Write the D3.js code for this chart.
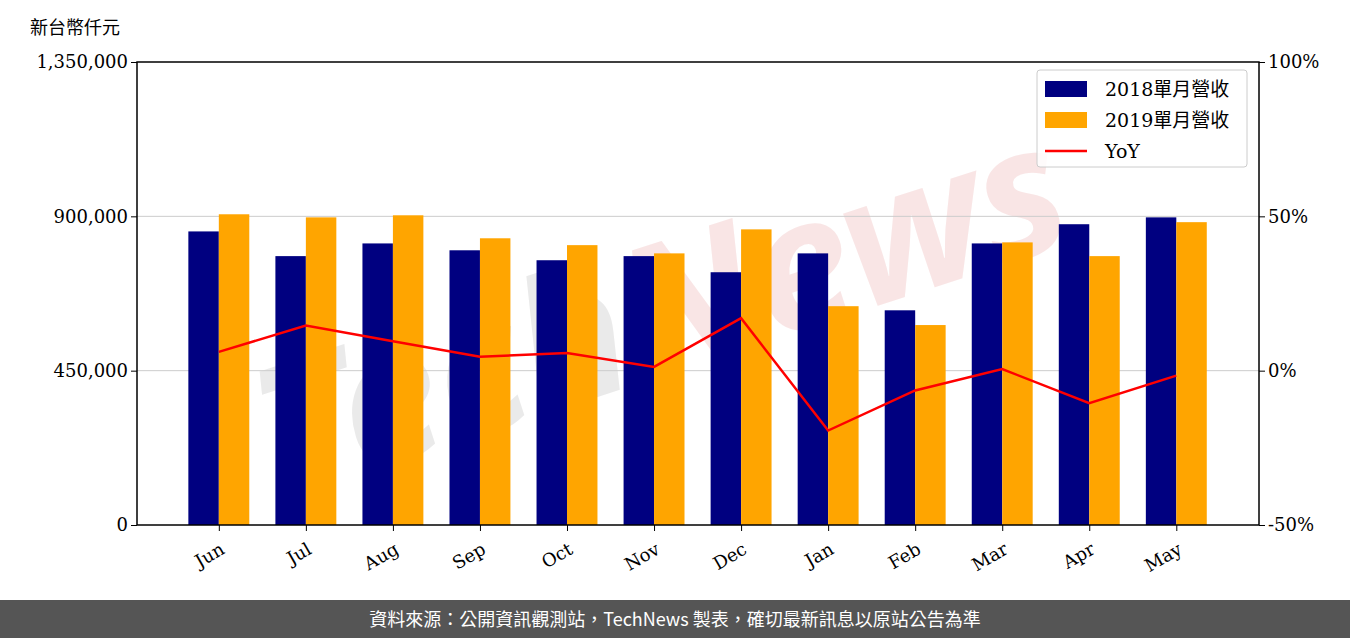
<!DOCTYPE html>
<html><head><meta charset="utf-8">
<script src="https://cdn.jsdelivr.net/npm/d3@7"></script>
<style>body{margin:0;background:#fff}svg{display:block}</style>
</head><body>
<svg id="c" width="1350" height="638"></svg>
<script>
const months = ["Jun","Jul","Aug","Sep","Oct","Nov","Dec","Jan","Feb","Mar","Apr","May"]
const rev2018 = [856000,784000,821000,801000,772000,784000,737000,792000,626000,821000,877000,897000]
const rev2019 = [906000,897000,903000,836000,816000,792000,862000,638000,583000,824000,784000,883000]
const yoy = [6.1,14.6,9.5,4.5,5.7,1.2,17.0,-19.4,-6.4,0.5,-10.5,-1.6]
const leftTicks = [0,450000,900000,1350000]
const rightTicks = [-50,0,50,100]

const svg = d3.select("#c")
const L = 137, R = 1259, T = 62, B = 525
const font = "'DejaVu Serif', 'Noto Sans CJK TC', serif"

const x = d3.scaleLinear().domain([-0.94, 11.95]).range([L, R])
const y = d3.scaleLinear().domain([0, 1350000]).range([B, T])
const y2 = d3.scaleLinear().domain([-50, 100]).range([B, T])
const bw = 0.35

// watermark
const wm = svg.append("text").attr("x", 680).attr("y", 370).attr("text-anchor", "middle")
    .attr("transform", "rotate(-18,680,370)")
    .attr("font-family", "'Noto Sans', sans-serif").attr("font-weight", "bold")
    .attr("font-style", "italic").attr("font-size", 180).attr("opacity", 0.5)
wm.append("tspan").attr("fill", "#d6d6d6").text("Tech")
wm.append("tspan").attr("fill", "#f4cccc").text("News")

// grid
svg.append("g").selectAll("line").data([450000, 900000]).join("line")
    .attr("x1", L).attr("x2", R).attr("y1", d => y(d)).attr("y2", d => y(d))
    .attr("stroke", "#cccccc").attr("stroke-width", 1)

// bars
svg.append("g").selectAll("rect").data(rev2018).join("rect")
    .attr("x", (d, i) => x(i - bw)).attr("width", x(bw) - x(0))
    .attr("y", d => y(d)).attr("height", d => B - y(d)).attr("fill", "#000080")
svg.append("g").selectAll("rect").data(rev2019).join("rect")
    .attr("x", (d, i) => x(i)).attr("width", x(bw) - x(0))
    .attr("y", d => y(d)).attr("height", d => B - y(d)).attr("fill", "#ffa500")

// yoy line
svg.append("path").datum(yoy)
    .attr("d", d3.line().x((d, i) => x(i)).y(d => y2(d)))
    .attr("fill", "none").attr("stroke", "red").attr("stroke-width", 2.5)

// frame
svg.append("rect").attr("x", L).attr("y", T).attr("width", R - L).attr("height", B - T)
    .attr("fill", "none").attr("stroke", "#000").attr("stroke-width", 1.5)

// axes
const ax = svg.append("g").attr("transform", `translate(${L},0)`)
    .call(d3.axisLeft(y).tickValues(leftTicks).tickFormat(d3.format(",")).tickSizeOuter(0).tickSize(6))
const ax2 = svg.append("g").attr("transform", `translate(${R},0)`)
    .call(d3.axisRight(y2).tickValues(rightTicks).tickFormat(d => d + "%").tickSizeOuter(0).tickSize(6))
const axb = svg.append("g").attr("transform", `translate(0,${B})`)
    .call(d3.axisBottom(x).tickValues(d3.range(12)).tickFormat(i => months[i]).tickSizeOuter(0).tickSize(6))
;[ax, ax2, axb].forEach(g => {
    g.select(".domain").remove()
    g.selectAll("text").attr("font-family", font).attr("font-size", 18).attr("fill", "#000")
})
axb.selectAll("text").attr("text-anchor", "end").attr("dy", 0)
    .attr("transform", "translate(2,20) rotate(-30)")

svg.append("text").attr("x", 30).attr("y", 34).attr("font-family", font)
    .attr("font-size", 18).text("新台幣仟元")

// legend
const lg = svg.append("g").attr("transform", "translate(1037,70)")
lg.append("rect").attr("width", 210).attr("height", 97).attr("rx", 3)
    .attr("fill", "#fff").attr("fill-opacity", 0.85).attr("stroke", "#ccc")
const items = [["2018單月營收", "#000080", "bar"], ["2019單月營收", "#ffa500", "bar"], ["YoY", "red", "line"]]
items.forEach((it, i) => {
    const cy = 19 + i * 31
    if (it[2] == "bar")
        lg.append("rect").attr("x", 8).attr("y", cy - 8).attr("width", 42).attr("height", 16).attr("fill", it[1])
    else
        lg.append("line").attr("x1", 8).attr("x2", 50).attr("y1", cy).attr("y2", cy).attr("stroke", it[1]).attr("stroke-width", 2.5)
    lg.append("text").attr("x", 68).attr("y", cy + 7).attr("font-family", font).attr("font-size", 19).text(it[0])
})

// footer
svg.append("rect").attr("x", 0).attr("y", 600).attr("width", 1350).attr("height", 38).attr("fill", "#555")
svg.append("text").attr("x", 675).attr("y", 626).attr("text-anchor", "middle")
    .attr("font-family", "'Noto Sans CJK TC', sans-serif").attr("font-size", 18).attr("fill", "#fff")
    .text("資料來源：公開資訊觀測站，TechNews 製表，確切最新訊息以原站公告為準")
</script>
</body></html>
